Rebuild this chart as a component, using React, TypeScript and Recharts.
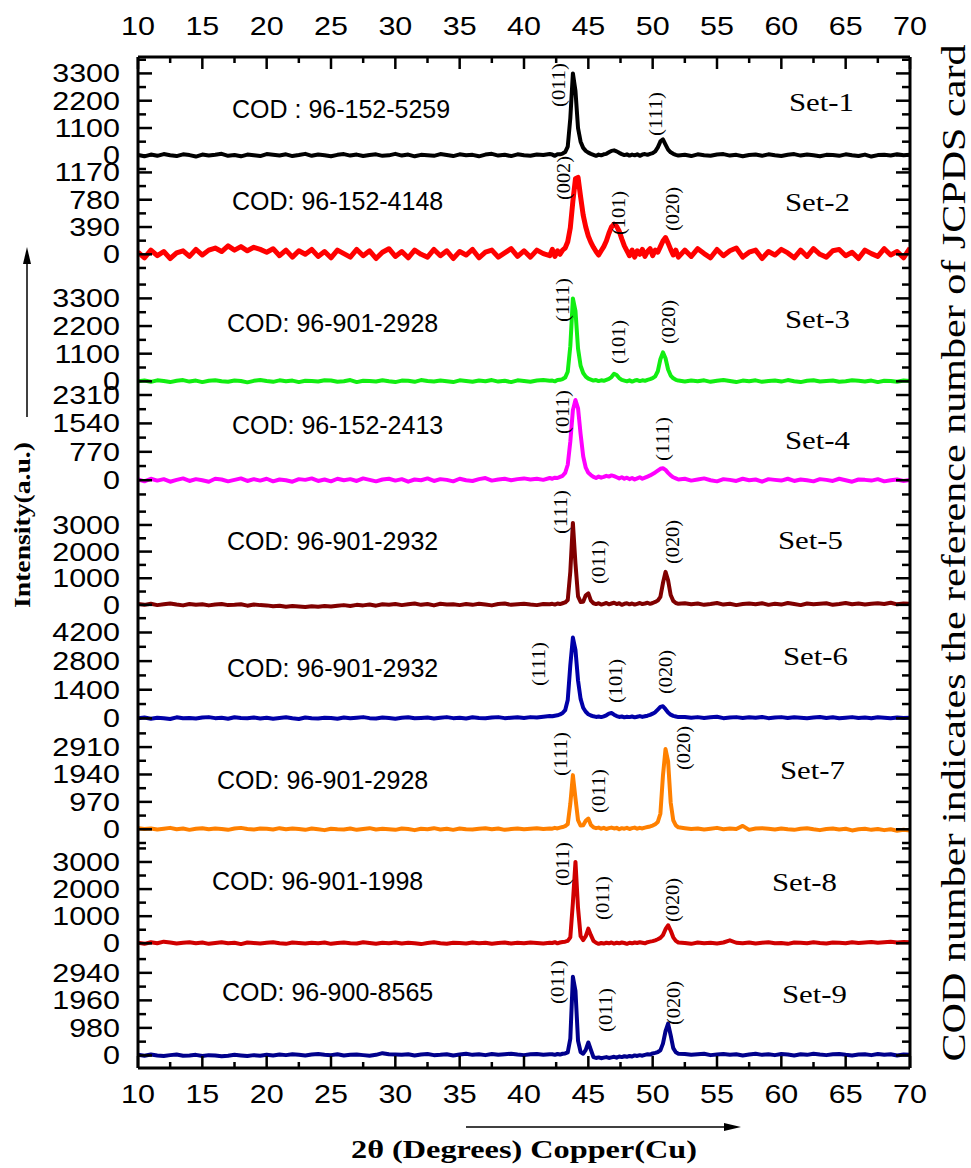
import React from 'react'
import { LineChart, Line, XAxis, YAxis } from 'recharts'

// 2-theta grid: 0.5 deg steps on the flat parts, 0.2 deg steps across the peak region
const angles = [
  10, 10.5, 11, 11.5, 12, 12.5, 13, 13.5, 14, 14.5, 15, 15.5, 16, 16.5, 17, 17.5, 18, 18.5, 19, 19.5,
  20, 20.5, 21, 21.5, 22, 22.5, 23, 23.5, 24, 24.5, 25, 25.5, 26, 26.5, 27, 27.5, 28, 28.5, 29, 29.5,
  30, 30.5, 31, 31.5, 32, 32.5, 33, 33.5, 34, 34.5, 35, 35.5, 36, 36.5, 37, 37.5, 38, 38.5, 39, 39.5,
  40, 40.5, 41, 41.5, 42,
  42.2, 42.4, 42.6, 42.8, 43, 43.2, 43.4, 43.6, 43.8, 44, 44.2, 44.4, 44.6, 44.8, 45, 45.2, 45.4, 45.6, 45.8, 46,
  46.2, 46.4, 46.6, 46.8, 47, 47.2, 47.4, 47.6, 47.8, 48, 48.2, 48.4, 48.6, 48.8, 49, 49.2, 49.4, 49.6, 49.8, 50,
  50.2, 50.4, 50.6, 50.8, 51, 51.2, 51.4, 51.6, 51.8, 52,
  52.5, 53, 53.5, 54, 54.5, 55, 55.5, 56, 56.5, 57, 57.5, 58, 58.5, 59, 59.5, 60, 60.5, 61, 61.5, 62,
  62.5, 63, 63.5, 64, 64.5, 65, 65.5, 66, 66.5, 67, 67.5, 68, 68.5, 69, 69.5, 70,
]

const set1 = [
  20, -40, 30, -20, 50, 0, -30, 40, 10, -50, 30, -10, 20, 60, -20, 10, -40, 30, 0, -30,
  50, 20, -10, 40, -30, 10, 60, -20, 30, 0, -40, 20, 50, -10, 30, -30, 10, 40, -20, 0,
  60, -10, 30, -40, 20, 0, -20, 50, 10, -30, 40, 0, 20, -40, 30, 60, -10, 20, -30, 40,
  0, -20, 30, 10, 50,
  30, -20, 40, 40, 70, 130, 350, 1500, 3300, 2600, 1100, 550, 300, 180, 110, 60, 20, -20, 30, 0,
  40, 60, 120, 180, 200, 160, 100, 50, 10, 40, -10, 30, 0, 40, -20, 30, 50, 20, 60, 90,
  160, 320, 560, 640, 430, 230, 120, 60, 20, -10,
  20, -30, 40, 0, -20, 30, 50, -10, 20, -40, 10, 30, -20, 40, 0, -30, 20, 50, -10, 30,
  0, -40, 20, 10, -20, 40, 0, -30, 30, -50, 10, 20, -10, 40, 0, 20,
]

const set2 = [
  30, -50, 60, -20, 40, -60, 20, 50, -30, 70, -10, 60, 90, 40, 120, 60, 110, 50, 100, 70,
  30, 80, -20, 60, -40, 50, 0, 70, -30, 40, -50, 60, 10, -40, 70, -20, 50, -60, 30, 80,
  -30, 40, -50, 60, 0, -40, 70, -20, 50, -60, 40, -10, 70, -50, 30, 60, -40, 20, 80, -30,
  50, -40, 60, 10, -20,
  70, -30, 50, 0, 60, 90, 180, 380, 760, 1080, 1100, 820, 560, 390, 260, 170, 100, 40, -10, 50,
  110, 190, 300, 390, 430, 400, 330, 220, 120, 50, -20, 60, -40, 50, 0, 70, -30, 40, 80, -20,
  60, 30, 110, 190, 240, 160, 70, -10, 60, -40,
  60, -30, 80, 10, -50, 70, -20, 50, 90, -40, 30, 60, -60, 40, -10, 70, 20, -50, 60, -30,
  80, 0, -40, 50, 70, -20, 30, -60, 60, 10, -30, 80, -10, 40, -50, 90,
]

const set3 = [
  0, 30, -20, 40, 10, -30, 20, 50, -10, 30, -30, 20, 40, 0, -20, 30, 10, -40, 20, 50,
  10, -20, 40, 0, 30, -30, 20, 10, -10, 40, 30, -20, 0, 50, -30, 20, 10, -10, 40, 0,
  -30, 30, 20, -20, 50, 10, -10, 30, 0, -30, 40, 10, -20, 30, 0, 50, -10, 20, -30, 40,
  10, -20, 30, 50, 20,
  30, 0, 50, 60, 90, 150, 380, 1400, 3300, 2800, 1300, 620, 330, 190, 110, 70, 30, 50, 10, 40,
  20, 60, 100, 170, 300, 250, 130, 60, 30, 0, 40, -10, 30, 50, 10, 40, 20, 60, 90, 130,
  200, 400, 880, 1150, 920, 470, 230, 120, 60, 30,
  -10, 30, 0, 40, -20, 20, 50, 10, -30, 30, 0, 40, -20, 10, 30, -10, 50, 0, -30, 20,
  40, -10, 10, 30, -20, 0, 40, 20, -10, 30, -30, 20, 10, -20, 30, 10,
]

const set4 = [
  20, -30, 40, -10, 30, -40, 10, 50, -20, 30, 0, -40, 40, 20, -30, 10, 50, -20, 30, -10,
  40, -30, 20, 0, -40, 30, 10, 50, -20, 20, -30, 40, 0, 30, -20, 50, 10, -30, 20, 40,
  -10, 30, -40, 20, 0, 50, -20, 30, 10, -30, 40, 0, -20, 30, 60, -10, 20, 40, 0, 30,
  50, 20, 40, 10, 60,
  40, 70, 60, 90, 120, 200, 420, 1050, 1900, 2175, 1950, 1250, 650, 340, 200, 140, 90, 60, 100, 70,
  90, 120, 100, 130, 110, 80, 50, 80, 40, 70, 30, 60, 20, 50, 80, 40, 70, 100, 130, 170,
  210, 260, 310, 326, 280, 200, 130, 80, 50, 20,
  40, -10, 20, 50, 0, -30, 30, 10, -20, 40, 0, 20, -40, 30, 10, -10, 40, -20, 20, 0,
  -30, 30, 10, -20, 40, 0, -40, 20, 10, -10, 30, -30, 0, 20, -20, 10,
]

const set5 = [
  30, 0, 40, -10, 20, 50, 10, -20, 30, 0, 20, -20, 10, 30, -10, 0, 20, -30, 10, -10,
  -20, -50, -30, -70, -40, -60, -80, -50, -70, -40, -60, -30, -10, -40, 0, -20, 10, -30, 20, 0,
  30, -10, 20, 50, 0, 30, -20, 40, 10, 20, -10, 30, 0, 40, 10, -20, 30, 50, 0, 20,
  40, 10, -10, 30, 20,
  40, 10, 50, 30, 60, 90, 180, 1250, 3075, 1550, 320, 110, 120, 360, 430, 160, 60, 30, 60, 10,
  40, 70, 20, 50, 80, 30, 60, 0, 40, 60, 20, 50, 10, 40, 70, 30, 50, 80, 40, 70,
  110, 160, 300, 820, 1240, 920, 370, 150, 70, 40,
  60, 20, 50, 0, 30, 70, 10, 40, -10, 30, 50, 20, 60, 0, 40, 10, 70, 30, -10, 50,
  20, 40, 60, 0, 30, 70, 20, 50, 10, 40, 60, 30, 80, 20, 50, 40,
]

const set6 = [
  0, 40, -20, 30, 10, -30, 50, 0, 20, -10, 40, 60, 10, 30, -20, 50, 20, 0, 40, -10,
  30, -20, 20, 50, 0, -30, 40, 10, -10, 30, 20, -20, 40, 0, 30, 60, 10, -10, 40, 20,
  -20, 30, 50, 0, 20, 40, -10, 30, 60, 10, 30, -10, 50, 20, 0, 40, 60, 10, 30, 50,
  20, 60, 40, 80, 110,
  100, 130, 150, 190, 260, 400, 900, 2600, 3950, 3350, 1850, 950, 520, 320, 200, 140, 100, 70, 90, 60,
  100, 150, 230, 260, 180, 110, 70, 90, 50, 80, 60, 90, 50, 80, 110, 70, 100, 130, 170, 230,
  300, 430, 560, 590, 450, 290, 180, 120, 90, 60,
  70, 30, 60, 20, 50, 80, 10, 40, 60, 20, 50, 30, 70, 10, 40, 60, 20, 50, 30, 10,
  40, 70, 20, 50, 0, 30, 60, 20, 40, 10, 50, 30, 0, 40, 20, 30,
]

const set7 = [
  40, 10, 30, -10, 20, 50, 0, 30, -20, 20, 40, 0, 30, 10, -20, 30, 50, 10, -10, 30,
  20, -10, 40, 0, 30, 10, -20, 30, 0, -30, 20, 0, -10, 30, -20, 10, 40, -10, 20, 0,
  -20, 30, 10, -30, 20, 0, 40, -10, 20, -20, 30, 0, -10, 20, 40, 0, 30, -20, 10, 30,
  0, 20, 40, 10, 30,
  20, 50, 30, 60, 80, 110, 180, 900, 1917, 1100, 320, 130, 140, 300, 380, 150, 70, 40, 60, 20,
  50, 10, 40, 60, 30, 50, 0, 40, 20, 50, 10, 40, 60, 20, 50, 30, 60, 80, 100, 130,
  180, 260, 550, 1900, 2840, 2400, 950, 320, 140, 70,
  40, 10, 30, -10, 20, 50, 0, 30, 10, 120, -20, 30, 40, 20, -10, 30, 0, -20, 20, 40,
  0, -30, 10, 30, -10, 20, -40, 0, 20, -20, 10, -30, 0, -50, -20, -40,
]

const set8 = [
  20, -20, 40, 0, 60, 30, -10, 20, 40, 0, 30, -20, 10, 40, 0, 20, -30, 30, 10, -10,
  20, 40, 0, -20, 30, 10, -10, 20, 0, 30, -20, 10, 30, 0, -10, 40, 10, -20, 20, 0,
  30, -10, 20, 0, -30, 10, 40, 0, -20, 20, 10, -10, 30, 0, 20, -20, 10, 30, -10, 20,
  0, 30, 10, -10, 20,
  10, 40, 0, 30, 50, 60, 90, 220, 1500, 3000, 1300, 260, 120, 260, 540, 300, 90, 20, -20, 10,
  -10, 20, 0, 30, -10, 20, 0, 30, 10, -20, 20, 0, 30, 10, 40, 20, 0, 40, 60, 80,
  110, 150, 200, 300, 520, 666, 470, 220, 90, 30,
  10, -20, 30, 0, 20, -10, 30, 110, 20, 0, 30, -10, 20, 40, 0, 10, -20, 30, 20, 0,
  40, 10, -10, 30, 20, 0, 40, 10, 30, 50, 20, 40, 60, 30, 50, 40,
]

const set9 = [
  20, -10, 30, 0, -20, 10, 30, -10, 0, 20, -20, 10, 0, -30, -10, 20, 0, -20, 10, -10,
  20, 0, 30, 10, 40, 20, 0, 30, 50, 20, 10, 40, 0, 20, 30, 10, -10, 20, 80, 40,
  30, 20, 40, 0, 30, 50, 10, 20, 40, 0, 30, 60, 20, 40, 10, 50, 20, 40, 60, 30,
  10, 40, 50, 20, 40,
  40, 20, 50, 30, 60, 70, 110, 600, 2800, 2300, 520, 120, 60, 200, 460, 200, -60, -90, -70, -100,
  -80, -60, -90, -70, -50, -80, -40, -60, -30, -50, -20, -40, 0, -20, 10, -10, 20, 40, 30, 70,
  90, 120, 180, 420, 860, 1130, 720, 260, 110, 60,
  50, 20, 40, 60, 10, 30, 50, 20, 40, 0, 30, 60, 20, 40, 10, 50, 30, 0, 40, 20,
  60, 30, 10, 40, 50, 20, 0, 30, 40, 10, 50, 20, 40, 0, 30, 20,
]

const xTicks = [10, 12.5, 15, 17.5, 20, 22.5, 25, 27.5, 30, 32.5, 35, 37.5, 40, 42.5, 45, 47.5, 50, 52.5, 55, 57.5, 60, 62.5, 65, 67.5, 70]
const xLabels = [10, 15, 20, 25, 30, 35, 40, 45, 50, 55, 60, 65, 70]

const setNames = ['Set-1', 'Set-2', 'Set-3', 'Set-4', 'Set-5', 'Set-6', 'Set-7', 'Set-8', 'Set-9']
const codLabels = [
  'COD : 96-152-5259', 'COD: 96-152-4148', 'COD: 96-901-2928', 'COD: 96-152-2413', 'COD: 96-901-2932',
  'COD: 96-901-2932', 'COD: 96-901-2928', 'COD: 96-901-1998', 'COD: 96-900-8565',
]
const colors = ['#000000', '#ff0000', '#11ee11', '#ff00ff', '#800000', '#0000a8', '#ff8000', '#d00000', '#00008c']
const majorTicks = [
  [0, 1100, 2200, 3300], [0, 390, 780, 1170], [0, 1100, 2200, 3300], [0, 770, 1540, 2310], [0, 1000, 2000, 3000],
  [0, 1400, 2800, 4200], [0, 970, 1940, 2910], [0, 1000, 2000, 3000], [0, 980, 1960, 2940],
]
const minorTicks = [
  [-550, 550, 1650, 2750, 3850], [-195, 195, 585, 975], [550, 1650, 2750, 3850], [-385, 385, 1155, 1925],
  [-500, 500, 1500, 2500, 3500], [700, 2100, 3500], [-485, 485, 1455, 2425, 3395], [500, 1500, 2500, 3500], [490, 1470, 2450, 3430],
]
const domains = [
  [-564, 3961], [-386, 1219], [-517, 3952], [-707, 2337], [-506, 3712], [-635, 4860], [-497, 3479], [-444, 3700], [-460, 3540],
]
const series = [set1, set2, set3, set4, set5, set6, set7, set8, set9]

// peak labels: [set index, text, x, y]
const peakLabels: [number, string, number, number][] = [
  [0, '(011)', 558, 85], [0, '(111)', 655, 114],
  [1, '(002)', 563, 178], [1, '(101)', 618, 213], [1, '(020)', 672, 209],
  [2, '(111)', 562, 300], [2, '(101)', 618, 342], [2, '(020)', 668, 322],
  [3, '(011)', 562, 412], [3, '(111)', 662, 439],
  [4, '(111)', 560, 512], [4, '(011)', 598, 562], [4, '(020)', 672, 542],
  [5, '(111)', 538, 664], [5, '(101)', 615, 681], [5, '(020)', 665, 672],
  [6, '(111)', 560, 754], [6, '(011)', 598, 791], [6, '(020)', 683, 748],
  [7, '(011)', 562, 864], [7, '(011)', 602, 898], [7, '(020)', 672, 900],
  [8, '(011)', 557, 982], [8, '(011)', 605, 1010], [8, '(020)', 673, 1003],
]
const codPos = [[232, 109], [232, 201], [227, 323], [232, 425], [227, 541], [227, 668], [217, 780], [212, 881], [222, 992]]
const setPos = [[789, 103], [785, 203], [785, 320], [785, 441], [778, 541], [783, 657], [780, 771], [772, 883], [782, 995]]

const LEFT = 138
const RIGHT = 910
const TOP = 57
const BOTTOM = 1068
const PANEL_H = (BOTTOM - TOP) / 9
const PAD = 24
const SANS = '"Liberation Sans", Arial, sans-serif'
const SERIF = '"Liberation Serif", "Times New Roman", serif'

function Panel({ idx }: { idx: number }) {
  const rows = angles.map((a, i) => ({ a, v: series[idx][i] }))
  const major = majorTicks[idx]
  const ticks = [...major, ...minorTicks[idx]].sort((p, q) => p - q)
  const renderTick = (props: any) => {
    const { y, payload } = props
    const isMajor = major.includes(payload.value)
    const len = isMajor ? 14 : 8
    return (
      <g>
        <line x1={LEFT} x2={LEFT + len} y1={y} y2={y} stroke="#000" strokeWidth={2.5} />
        <line x1={RIGHT - len} x2={RIGHT} y1={y} y2={y} stroke="#000" strokeWidth={2.5} />
        {isMajor && (
          <text transform={`translate(120 ${y}) scale(1.22 1)`} textAnchor="end" dy="0.36em"
            fontFamily={SANS} fontSize={25} fill="#000">{payload.value}</text>
        )}
      </g>
    )
  }
  return (
    <div style={{ position: 'absolute', left: 0, top: TOP + idx * PANEL_H - PAD }}>
      <LineChart width={971} height={PANEL_H + 2 * PAD} data={rows} margin={{ top: PAD, bottom: PAD, left: 0, right: 971 - RIGHT }}>
        <XAxis dataKey="a" type="number" domain={[10, 70]} hide allowDataOverflow />
        <YAxis type="number" domain={domains[idx]} allowDataOverflow ticks={ticks} interval={0} width={LEFT}
          axisLine={false} tickLine={false} tick={renderTick} />
        <Line type="linear" dataKey="v" stroke={colors[idx]} strokeWidth={idx === 1 ? 5 : 4} dot={false}
          strokeLinejoin="round" isAnimationActive={false} />
      </LineChart>
    </div>
  )
}

const frameData = [{ a: 10, f: 0 }, { a: 70, f: 1 }]

function Frame() {
  const frameLine = { stroke: '#000', strokeWidth: 3 }
  const topTick = (props: any) => {
    const { x, payload } = props
    const isMajor = xLabels.includes(payload.value)
    return (
      <g>
        <line x1={x} x2={x} y1={TOP} y2={TOP + (isMajor ? 12 : 6)} stroke="#000" strokeWidth={2.5} />
        {isMajor && (
          <text transform={`translate(${x} 26) scale(1.22 1)`} textAnchor="middle" dy="0.36em"
            fontFamily={SANS} fontSize={25} fill="#000">{payload.value}</text>
        )}
      </g>
    )
  }
  const bottomTick = (props: any) => {
    const { x, payload } = props
    const isMajor = xLabels.includes(payload.value)
    return (
      <g>
        <line x1={x} x2={x} y1={BOTTOM} y2={BOTTOM - (isMajor ? 12 : 6)} stroke="#000" strokeWidth={2.5} />
        {isMajor && (
          <text transform={`translate(${x} 1094) scale(1.22 1)`} textAnchor="middle" dy="0.36em"
            fontFamily={SANS} fontSize={25} fill="#000">{payload.value}</text>
        )}
      </g>
    )
  }
  return (
    <div style={{ position: 'absolute', left: 0, top: 0, pointerEvents: 'none' }}>
      <LineChart width={971} height={1168} data={frameData}
        margin={{ top: TOP - 1, bottom: 1168 - BOTTOM - 1, left: LEFT - 1, right: 971 - RIGHT - 1 }}>
        <XAxis xAxisId="top" orientation="top" dataKey="a" type="number" domain={[10, 70]} ticks={xTicks}
          interval={0} height={1} axisLine={frameLine} tickLine={false} tick={topTick} />
        <XAxis xAxisId="bottom" orientation="bottom" dataKey="a" type="number" domain={[10, 70]} ticks={xTicks}
          interval={0} height={1} axisLine={frameLine} tickLine={false} tick={bottomTick} />
        <YAxis yAxisId="l" orientation="left" width={1} type="number" domain={[0, 1]} tick={false} axisLine={frameLine} />
        <YAxis yAxisId="r" orientation="right" width={1} type="number" domain={[0, 1]} tick={false} axisLine={frameLine} />
        <Line xAxisId="bottom" yAxisId="l" dataKey="f" stroke="transparent" dot={false} isAnimationActive={false} />
        <Line xAxisId="top" yAxisId="r" dataKey="f" stroke="transparent" dot={false} isAnimationActive={false} />
      </LineChart>
    </div>
  )
}

function Annotations() {
  return (
    <svg width={971} height={1168} style={{ position: 'absolute', left: 0, top: 0, pointerEvents: 'none' }}>
      {codLabels.map((t, i) => (
        <text key={'c' + i} x={codPos[i][0]} y={codPos[i][1] + 9} fontFamily={SANS} fontSize={25} fill="#000">{t}</text>
      ))}
      {setNames.map((t, i) => (
        <text key={'s' + i} x={setPos[i][0]} y={setPos[i][1] + 8} fontFamily={SERIF} fontSize={25}
          textLength={65} lengthAdjust="spacingAndGlyphs" fill="#000">{t}</text>
      ))}
      {peakLabels.map(([, t, x, y], i) => (
        <text key={'p' + i} x={x} y={y} transform={`rotate(-90 ${x} ${y})`} textAnchor="middle"
          dominantBaseline="central" fontFamily={SERIF} fontSize={19} textLength={44}
          lengthAdjust="spacingAndGlyphs" fill="#000">{t}</text>
      ))}
      <text x={22} y={525} transform="rotate(-90 22 525)" textAnchor="middle" dominantBaseline="central"
        fontFamily={SERIF} fontWeight="bold" fontSize={24} textLength={166} lengthAdjust="spacingAndGlyphs"
        fill="#000">Intensity(a.u.)</text>
      <line x1={27} y1={417} x2={27} y2={262} stroke="#000" strokeWidth={1.5} />
      <polygon points="27,247 23,264 31,264" fill="#000" />
      <line x1={466} y1={1127} x2={726} y2={1127} stroke="#000" strokeWidth={1.5} />
      <polygon points="741,1127 724,1123 724,1131" fill="#000" />
      <text x={524} y={1158} textAnchor="middle" fontFamily={SERIF} fontWeight="bold" fontSize={25}
        textLength={346} lengthAdjust="spacingAndGlyphs" fill="#000">2θ (Degrees) Copper(Cu)</text>
      <text x={954} y={553} transform="rotate(-90 954 553)" textAnchor="middle" dominantBaseline="central"
        fontFamily={SERIF} fontSize={33} textLength={1017} lengthAdjust="spacingAndGlyphs"
        fill="#000">COD number indicates the reference number of JCPDS card</text>
    </svg>
  )
}

export default function App() {
  return (
    <div style={{ position: 'absolute', left: 0, top: 0, width: 971, height: 1168, background: '#fff' }}>
      {series.map((_, i) => (
        <Panel key={i} idx={i} />
      ))}
      <Frame />
      <Annotations />
    </div>
  )
}
